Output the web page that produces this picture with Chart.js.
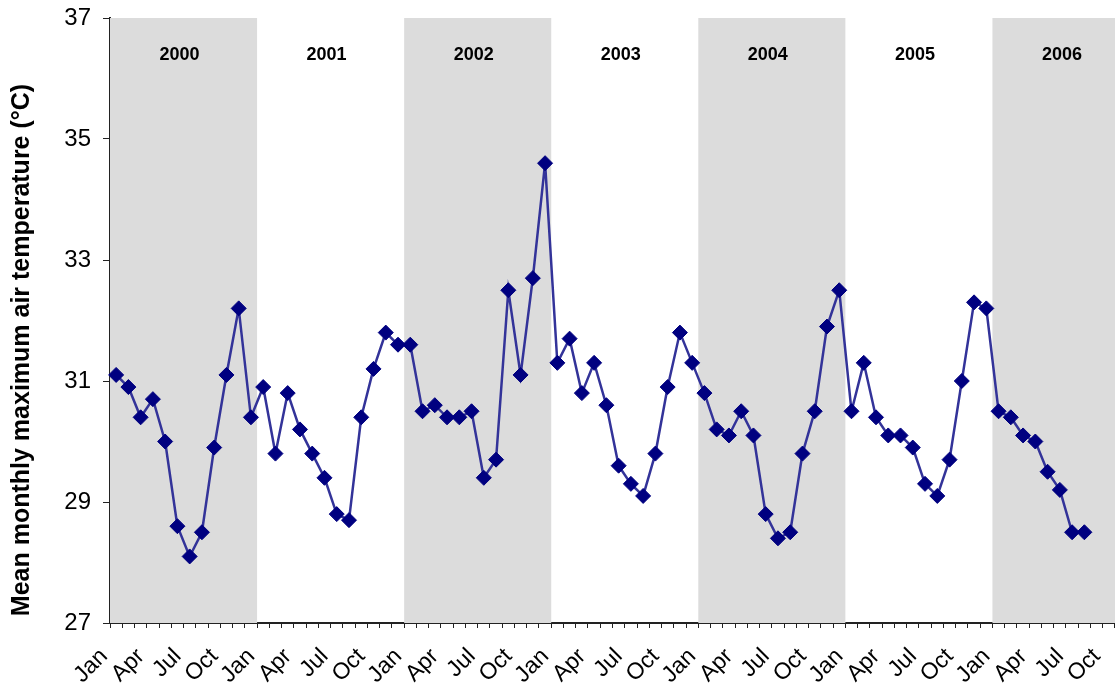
<!DOCTYPE html>
<html>
<head>
<meta charset="utf-8">
<script src="https://cdn.jsdelivr.net/npm/chart.js@4.4.1/dist/chart.umd.min.js"></script>
<style>
  html,body{margin:0;padding:0;background:#fff;}
  #wrap{width:1115px;height:693px;position:relative;}
</style>
</head>
<body>
<div id="wrap"><canvas id="tempChart"></canvas></div>
<script>
// monthly categories Jan 2000 .. Oct 2006
const YEARS = [2000, 2001, 2002, 2003, 2004, 2005, 2006];
const MONTHS = ['Jan','Feb','Mar','Apr','May','Jun','Jul','Aug','Sep','Oct','Nov','Dec'];
const SHOWN_MONTHS = ['Jan','Apr','Jul','Oct'];
const N_MONTHS = 82;
const labels = Array.from({length:N_MONTHS},(_,i)=>MONTHS[i%12]);

// mean monthly maximum air temperature, deg C (Jan 2000 .. Aug 2006)
const tmax = [
  31.1, 30.9, 30.4, 30.7, 30.0, 28.6, 28.1, 28.5, 29.9, 31.1, 32.2, 30.4,
  30.9, 29.8, 30.8, 30.2, 29.8, 29.4, 28.8, 28.7, 30.4, 31.2, 31.8, 31.6,
  31.6, 30.5, 30.6, 30.4, 30.4, 30.5, 29.4, 29.7, 32.5, 31.1, 32.7, 34.6,
  31.3, 31.7, 30.8, 31.3, 30.6, 29.6, 29.3, 29.1, 29.8, 30.9, 31.8, 31.3,
  30.8, 30.2, 30.1, 30.5, 30.1, 28.8, 28.4, 28.5, 29.8, 30.5, 31.9, 32.5,
  30.5, 31.3, 30.4, 30.1, 30.1, 29.9, 29.3, 29.1, 29.7, 31.0, 32.3, 32.2,
  30.5, 30.4, 30.1, 30.0, 29.5, 29.2, 28.5, 28.5
];

const Y_MIN = 27, Y_MAX = 37, Y_STEP = 2;
const Y_TITLE = 'Mean monthly maximum air temperature (°C)';
const FONT = "'Liberation Sans', Arial, sans-serif";

// grey bands behind even years + year captions
const yearBands = {
  id:'yearBands',
  beforeDatasetsDraw(chart){
    const {ctx, chartArea:a, scales:{x}} = chart;
    const step = x.getPixelForValue(1) - x.getPixelForValue(0);
    ctx.save();
    YEARS.forEach((yr,k)=>{
      const left = x.getPixelForValue(k*12) - step/2;
      const right = Math.min(left + 12*step, a.right);
      if(k%2===0){
        ctx.fillStyle = '#dcdcdc';
        ctx.fillRect(left, a.top, right-left, a.bottom-a.top);
      }
      ctx.fillStyle = '#000';
      ctx.font = 'bold 18px ' + FONT;
      ctx.textAlign = 'center';
      ctx.textBaseline = 'middle';
      ctx.fillText(String(yr), left + 6*step - 4, 55);
    });
    ctx.restore();
  }
};

// rotated y axis caption
const yCaption = {
  id:'yCaption',
  afterDraw(chart){
    const {ctx} = chart;
    ctx.save();
    ctx.translate(22, 350);
    ctx.rotate(-Math.PI/2);
    ctx.font = 'bold 25px ' + FONT;
    ctx.fillStyle = '#000';
    ctx.textAlign = 'center';
    ctx.textBaseline = 'middle';
    ctx.fillText(Y_TITLE, 0, 0);
    ctx.restore();
  }
};

new Chart(document.getElementById('tempChart'),{
  type:'line',
  data:{labels, datasets:[{
    data:tmax,
    borderColor:'#333399', borderWidth:2.5,
    pointStyle:'rectRot', pointRadius:7.5, pointHoverRadius:7.5,
    pointBackgroundColor:'#000080', pointBorderColor:'#000080', pointBorderWidth:1,
    tension:0, fill:false
  }]},
  options:{
    responsive:true, maintainAspectRatio:false, animation:false,
    devicePixelRatio:1,
    layout:{autoPadding:false, padding:{top:18,right:0,left:0,bottom:0}},
    plugins:{legend:{display:false}, tooltip:{enabled:false}},
    scales:{
      x:{
        type:'category', offset:true,
        afterFit(s){ s.height = 70; s.paddingLeft = 0; s.paddingRight = 0; },
        grid:{offset:true, drawOnChartArea:false, tickLength:5, color:'#222', lineWidth:1},
        border:{color:'#222', width:2},
        ticks:{
          autoSkip:false, maxRotation:45, minRotation:45,
          padding:15, labelOffset:-12,
          color:'#000', font:{family:FONT, size:23},
          callback(v,i){ const m = labels[i]; return SHOWN_MONTHS.includes(m) ? m : ''; }
        }
      },
      y:{
        min:Y_MIN, max:Y_MAX,
        afterFit(s){ s.width = 110; s.paddingTop = 0; s.paddingBottom = 0; },
        grid:{drawOnChartArea:false, tickLength:7, color:'#222', lineWidth:1},
        border:{color:'#222', width:2},
        ticks:{stepSize:Y_STEP, padding:12, color:'#000', font:{family:FONT, size:24}}
      }
    }
  },
  plugins:[yearBands, yCaption]
});
</script>
</body>
</html>
